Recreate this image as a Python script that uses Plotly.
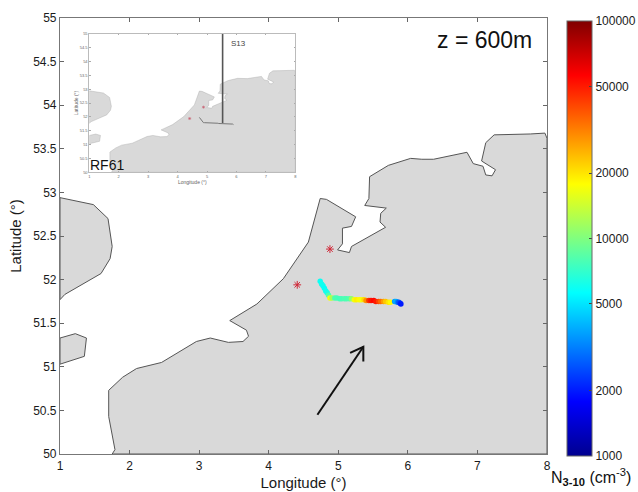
import numpy as np
import plotly.graph_objects as go

FONT = "Liberation Sans"

main_lon = [1.75, 1.79, 1.70, 1.70, 1.90, 2.10, 2.46, 2.96, 3.16, 3.42, 3.63, 3.71, 3.68, 3.44, 3.83,
            4.21, 4.57, 4.74, 4.83, 5.25, 5.19, 5.06, 5.06, 4.99, 5.16, 5.19, 5.68, 5.60, 5.61, 5.69,
            5.38, 5.44, 5.45, 5.72, 6.04, 6.20, 6.37, 6.85, 6.94, 7.08, 7.12, 7.21, 7.26, 7.06, 7.12,
            7.24, 7.76, 7.97, 8.00, 8.00, 1.75]
main_lat = [50.00, 50.05, 50.43, 50.73, 50.88, 50.98, 51.05, 51.29, 51.33, 51.28, 51.29, 51.35, 51.42, 51.53, 51.72,
            52.01, 52.43, 52.93, 52.92, 52.72, 52.61, 52.59, 52.41, 52.34, 52.31, 52.38, 52.60, 52.66, 52.76, 52.82,
            52.85, 52.93, 53.18, 53.31, 53.39, 53.38, 53.38, 53.46, 53.33, 53.30, 53.20, 53.19, 53.26, 53.36, 53.57,
            53.66, 53.67, 53.68, 53.62, 50.00, 50.00]
uk_north_lon = [1.00, 1.48, 1.69, 1.75, 1.72, 1.59, 1.07, 1.00, 1.00]
uk_north_lat = [52.94, 52.86, 52.70, 52.38, 52.24, 52.07, 51.83, 51.77, 52.94]
uk_south_lon = [1.00, 1.22, 1.38, 1.35, 1.00, 1.00]
uk_south_lat = [51.33, 51.38, 51.33, 51.12, 51.03, 51.33]

star_lon = [4.88, 4.41]
star_lat = [52.35, 51.94]

track_lon = [4.74, 4.76, 4.78, 4.80, 4.82, 4.84, 4.86, 4.88,
             4.91, 4.95, 4.98, 5.02, 5.05, 5.09, 5.12, 5.16, 5.19, 5.23, 5.26, 5.30, 5.33, 5.37,
             5.40, 5.44, 5.47, 5.51, 5.54, 5.58, 5.61, 5.65, 5.68, 5.72, 5.75,
             5.81, 5.83, 5.85, 5.87, 5.89, 5.90]
track_lat = [51.98, 51.95, 51.93, 51.90, 51.87, 51.85, 51.82, 51.79,
             51.79, 51.79, 51.79, 51.78, 51.78, 51.78, 51.78, 51.78, 51.78, 51.77, 51.77, 51.77, 51.77, 51.77,
             51.76, 51.76, 51.76, 51.76, 51.75, 51.75, 51.75, 51.75, 51.75, 51.74, 51.74,
             51.75, 51.75, 51.74, 51.74, 51.73, 51.72]
track_val = [5900, 6100, 6000, 5800, 6000, 6200, 8000, 17000,
             12000, 8000, 7800, 7600, 7800, 8000, 7900, 8200, 11000, 17000, 19000, 18000, 17000, 21000,
             30000, 45000, 52000, 55000, 50000, 42000, 35000, 28000, 23000, 20000, 18000,
             3600, 4000, 3200, 2600, 2200, 2000]

arrow_lon = [4.70, 5.36, None, 5.17, 5.36, 5.36]
arrow_lat = [50.45, 51.23, None, 51.16, 51.23, 51.06]

inset_line_lon = [5.53, 5.53]
inset_line_lat = [55.0, 51.78]

tick_lon = [1, 2, 3, 4, 5, 6, 7, 8]
tick_lat = [50, 50.5, 51, 51.5, 52, 52.5, 53, 53.5, 54, 54.5, 55]
tick_lat_text = ["50", "50.5", "51", "51.5", "52", "52.5", "53", "53.5", "54", "54.5", "55"]
cbar_vals = [1000, 2000, 5000, 10000, 20000, 50000, 100000]

jet = [[0, "rgb(0,0,143)"], [0.125, "rgb(0,0,255)"], [0.375, "rgb(0,255,255)"],
       [0.625, "rgb(255,255,0)"], [0.875, "rgb(255,0,0)"], [1, "rgb(128,0,0)"]]

W, H = 638, 492
L, R, T, B = 60, 547, 18, 454
IL, IR, IT, IB = 89.3, 295.3, 33.7, 172.3

fig = go.Figure()


def land(xa, ya, lw):
    for lo, la in [(main_lon, main_lat), (uk_north_lon, uk_north_lat), (uk_south_lon, uk_south_lat)]:
        fig.add_trace(go.Scatter(x=lo, y=la, mode="lines", fill="toself", fillcolor="#d9d9d9",
                                 line=dict(color="#555555" if lw >= 1 else "#a8a8a8", width=lw),
                                 xaxis=xa, yaxis=ya, showlegend=False, hoverinfo="skip"))


land("x", "y", 1)
land("x2", "y2", 0.4)

fig.add_trace(go.Scatter(x=star_lon, y=star_lat, mode="markers",
                         marker=dict(symbol="asterisk", size=6.5, line=dict(color="#d02838", width=1)),
                         showlegend=False))
fig.add_trace(go.Scatter(x=track_lon, y=track_lat, mode="markers",
                         marker=dict(size=5.5, color=np.log10(track_val), coloraxis="coloraxis", line=dict(width=0)),
                         showlegend=False))
fig.add_trace(go.Scatter(x=arrow_lon, y=arrow_lat, mode="lines", line=dict(color="#111111", width=2),
                         showlegend=False))

fig.add_trace(go.Scatter(x=inset_line_lon, y=inset_line_lat, mode="lines", line=dict(color="#555555", width=1.6),
                         xaxis="x2", yaxis="y2", showlegend=False))
fig.add_trace(go.Scatter(x=track_lon, y=track_lat, mode="lines", line=dict(color="#777777", width=1),
                         xaxis="x2", yaxis="y2", showlegend=False))
fig.add_trace(go.Scatter(x=star_lon, y=star_lat, mode="markers",
                         marker=dict(symbol="asterisk", size=2.5, line=dict(color="#c86070", width=0.6)),
                         xaxis="x2", yaxis="y2", showlegend=False))

ax_common = dict(showgrid=False, zeroline=False, showline=True, linecolor="#777777", linewidth=1.2,
                 mirror="allticks", ticks="inside", tickcolor="#666666")
ax_inset = ax_common | dict(linecolor="#bbbbbb", linewidth=0.8, tickcolor="#aaaaaa", tickwidth=0.5)

fig.update_layout(
    width=W, height=H, autosize=False,
    margin=dict(l=L, r=W - R, t=T, b=H - B, pad=0, autoexpand=False),
    paper_bgcolor="white", plot_bgcolor="white",
    font=dict(family=FONT, color="#1a1a1a", size=12),
    showlegend=False,
    xaxis=dict(domain=[0, 1], range=[1, 8], tickvals=tick_lon, ticklen=4, anchor="y",
               tickfont=dict(size=12), title=dict(text="Longitude (°)", font=dict(size=15), standoff=5), **ax_common),
    yaxis=dict(domain=[0, 1], range=[50, 55], tickvals=tick_lat, ticktext=tick_lat_text, ticklen=4, anchor="x",
               tickfont=dict(size=12), title=dict(text="Latitude (°)", font=dict(size=15), standoff=7), **ax_common),
    xaxis2=dict(domain=[(IL - L) / (R - L), (IR - L) / (R - L)], range=[1, 8], tickvals=tick_lon, ticklen=1.5, anchor="y2",
                tickfont=dict(size=4, color="#666666"),
                title=dict(text="Longitude (°)", font=dict(size=5, color="#666666"), standoff=1), **ax_inset),
    yaxis2=dict(domain=[(B - IB) / (B - T), (B - IT) / (B - T)], range=[50, 55], tickvals=tick_lat, ticktext=tick_lat_text,
                ticklen=1.5, anchor="x2", tickfont=dict(size=4, color="#666666"),
                title=dict(text="Latitude (°)", font=dict(size=5, color="#666666"), standoff=1), **ax_inset),
    coloraxis=dict(
        colorscale=jet, cmin=3, cmax=5,
        colorbar=dict(
            thickness=25, thicknessmode="pixels",
            len=(456 - 21) / (B - T), lenmode="fraction",
            x=(567 - L) / (R - L), xanchor="left", xpad=0,
            y=(B - 456) / (B - T), yanchor="bottom", ypad=0,
            tickvals=np.log10(cbar_vals).tolist(), ticktext=[str(v) for v in cbar_vals],
            ticks="inside", ticklen=3, tickcolor="#444444", tickfont=dict(size=12, family=FONT, color="#1a1a1a"),
            outlinecolor="#666666", outlinewidth=1,
        ),
    ),
    annotations=[
        dict(x=(484 - L) / (R - L), y=(B - 40) / (B - T), xref="paper", yref="paper", text="z = 600m", showarrow=False,
             font=dict(size=23, color="#111111"), xanchor="center", yanchor="middle"),
        dict(x=(107 - L) / (R - L), y=(B - 165) / (B - T), xref="paper", yref="paper", text="RF61", showarrow=False,
             font=dict(size=14, color="#111111"), xanchor="center", yanchor="middle"),
        dict(x=(238 - L) / (R - L), y=(B - 43) / (B - T), xref="paper", yref="paper", text="S13", showarrow=False,
             font=dict(size=8, color="#444444"), xanchor="center", yanchor="middle"),
        dict(x=(591 - L) / (R - L), y=(B - 477) / (B - T), xref="paper", yref="paper",
             text="N<sub><b>3-10</b></sub> (cm<sup>-3</sup>)", showarrow=False,
             font=dict(size=16, color="#111111"), xanchor="center", yanchor="middle"),
    ],
)

fig.write_html("out.html", config={"displayModeBar": False}, post_script="document.body.style.margin='0';")
